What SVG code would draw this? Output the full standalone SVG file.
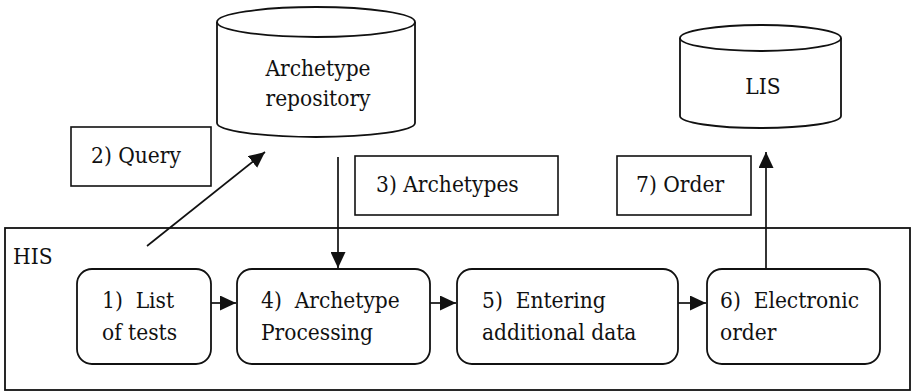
<svg xmlns="http://www.w3.org/2000/svg" width="912" height="392" viewBox="0 0 912 392">
  <style>
    text { font-family: 'DejaVu Serif Condensed', 'DejaVu Serif', serif; font-stretch: condensed; font-size: 22.5px; fill: #111; }
    .mid { text-anchor: middle; }
    .shape { fill: #fff; stroke: #111; stroke-width: 1.8; }
    .box { fill: #fff; stroke: #111; stroke-width: 1.6; }
    .link { fill: none; stroke: #111; stroke-width: 1.7; }
  </style>
  <defs>
    <marker id="arrow" markerUnits="userSpaceOnUse" markerWidth="16" markerHeight="15" refX="16" refY="7.5" orient="auto">
      <path d="M0,0 L16,7.5 L0,15 Z" fill="#111"/>
    </marker>
  </defs>

  <rect width="912" height="392" fill="#fff"/>

  <!-- HIS container -->
  <g id="his">
    <rect x="5" y="228" width="905" height="162" fill="none" stroke="#111" stroke-width="1.8"/>
    <text x="13" y="264">HIS</text>
  </g>

  <!-- Archetype repository -->
  <g id="repository">
    <path class="shape" d="M217,22 V123 A99,14 0 0 0 415,123 V22"/>
    <ellipse class="shape" cx="316" cy="22" rx="99" ry="15"/>
    <text class="mid" x="318" y="76">Archetype</text>
    <text class="mid" x="318" y="106">repository</text>
  </g>

  <!-- LIS -->
  <g id="lis">
    <path class="shape" d="M680,38 V116 A80.5,12 0 0 0 841,116 V38"/>
    <ellipse class="shape" cx="760.5" cy="38" rx="80.5" ry="13"/>
    <text class="mid" x="763" y="94">LIS</text>
  </g>

  <!-- Labels on flows -->
  <g id="label-query">
    <rect class="box" x="71" y="127" width="140" height="59"/>
    <text x="91" y="163">2) Query</text>
  </g>
  <g id="label-archetypes">
    <rect class="box" x="355" y="156" width="203" height="59"/>
    <text x="376" y="192">3) Archetypes</text>
  </g>
  <g id="label-order">
    <rect class="box" x="617" y="156" width="134" height="59"/>
    <text x="636" y="192">7) Order</text>
  </g>

  <!-- Process steps -->
  <g id="step1">
    <rect class="shape" x="77" y="269" width="134" height="95" rx="15"/>
    <text x="102" y="308" xml:space="preserve">1)  List</text>
    <text x="102" y="340">of tests</text>
  </g>
  <g id="step4">
    <rect class="shape" x="237" y="269" width="193" height="95" rx="15"/>
    <text x="261" y="308" xml:space="preserve">4)  Archetype</text>
    <text x="261" y="340">Processing</text>
  </g>
  <g id="step5">
    <rect class="shape" x="457" y="269" width="221" height="95" rx="15"/>
    <text x="482" y="308" xml:space="preserve">5)  Entering</text>
    <text x="482" y="340">additional data</text>
  </g>
  <g id="step6">
    <rect class="shape" x="707" y="269" width="173" height="95" rx="15"/>
    <text x="720" y="308" xml:space="preserve">6)  Electronic</text>
    <text x="720" y="340">order</text>
  </g>

  <!-- Connectors -->
  <g id="connectors">
    <line class="link" x1="147" y1="246" x2="265" y2="152" marker-end="url(#arrow)"/>
    <line class="link" x1="338" y1="157" x2="338" y2="268" marker-end="url(#arrow)"/>
    <line class="link" x1="211" y1="303" x2="236" y2="303" marker-end="url(#arrow)"/>
    <line class="link" x1="430" y1="303" x2="456" y2="303" marker-end="url(#arrow)"/>
    <line class="link" x1="678" y1="303" x2="706" y2="303" marker-end="url(#arrow)"/>
    <line class="link" x1="766" y1="269" x2="766" y2="152" marker-end="url(#arrow)"/>
  </g>
</svg>
